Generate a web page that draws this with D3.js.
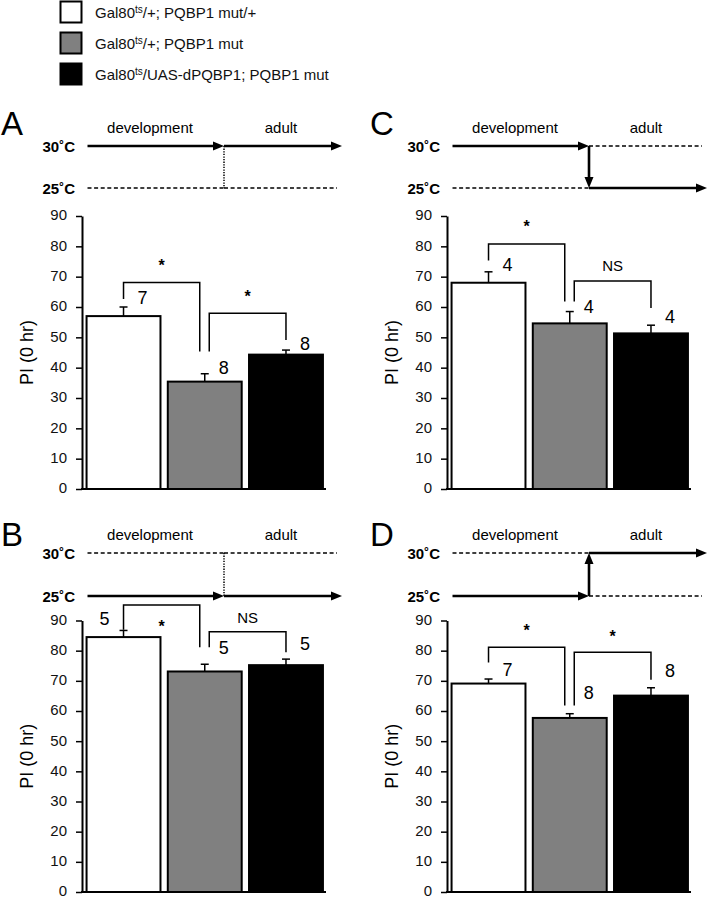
<!DOCTYPE html>
<html><head><meta charset="utf-8">
<script src="https://cdn.jsdelivr.net/npm/d3@7"></script>
<style>body{margin:0;background:#fff} svg text{font-family:"Liberation Sans",Arial,Helvetica,sans-serif}</style>
</head><body><svg id="c" width="708" height="899"></svg>
<script>
// ---------- data ----------
const legendPrefix = "Gal80";
const legendSup = "ts";
const legendRest = ["/+; PQBP1 mut/+", "/+; PQBP1 mut", "/UAS-dPQBP1; PQBP1 mut"];
const groups = [0, 1, 2];
const panels = ["A", "B", "C", "D"];
const yTicks = [0, 10, 20, 30, 40, 50, 60, 70, 80, 90];
const phaseLabels = ["development", "adult"];
const devTemp = [30, 25, 30, 25];
const adultTemp = [30, 25, 25, 30];
const temps = [30, 25];

const meanA = [57.0, 35.4, 44.3], semA = [3.0, 2.6, 1.5], nA = [7, 8, 8], nAtA = [63.0, 39.9, 48.1], nSideA = [1, 1, 1];
const meanB = [84.5, 73.1, 75.2], semB = [2.2, 2.4, 2.0], nB = [5, 5, 5], nAtB = [90.5, 81.1, 82.3], nSideB = [-1, 1, 1];
const meanC = [68.0, 54.6, 51.3], semC = [3.6, 3.9, 2.7], nC = [4, 4, 4], nAtC = [73.9, 60.3, 57.0], nSideC = [1, 1, 1];
const meanD = [69.1, 57.7, 65.1], semD = [1.5, 1.4, 2.6], nD = [7, 8, 8], nAtD = [73.7, 66.0, 73.5], nSideD = [1, 1, 1];

// brackets: from bar, to bar, top level, left leg end, right leg end, label, label level (PI units)
const bracketsA = [[0, 1, 68.1, 62.6, 45.3, "*", 74.9], [1, 2, 57.9, 45.3, 49.1, "*", 64.6]];
const bracketsB = [[0, 1, 95.1, 86.9, 81.1, "*", 89.3], [1, 2, 86.3, 81.1, 79.5, "NS", 90.8]];
const bracketsC = [[0, 1, 80.8, 75.3, 61.8, "*", 87.7], [1, 2, 68.6, 61.8, 59.7, "NS", 73.6]];
const bracketsD = [[0, 1, 81.1, 76.1, 61.8, "*", 88.0], [1, 2, 79.5, 61.8, 70.4, "*", 86.0]];

const panelData = {
  A: {mean: meanA, sem: semA, n: nA, nAt: nAtA, nSide: nSideA, br: bracketsA},
  B: {mean: meanB, sem: semB, n: nB, nAt: nAtB, nSide: nSideB, br: bracketsB},
  C: {mean: meanC, sem: semC, n: nC, nAt: nAtC, nSide: nSideC, br: bracketsC},
  D: {mean: meanD, sem: semD, n: nD, nAt: nAtD, nSide: nSideD, br: bracketsD}
};

// ---------- styles / layout ----------
const fills = ["#ffffff", "#808080", "#000000"];
const colAxisX = [82, 447];
const rows = [{y0: 489, y90: 216, t30: 146, t25: 188, letterY: 135},
              {y0: 892, y90: 620.5, t30: 553, t25: 596, letterY: 546}];
const panelPos = {A: [0, 0], B: [0, 1], C: [1, 0], D: [1, 1]};

const svg = d3.select("#c");

// legend
const lg = svg.append("g");
groups.forEach((g, i) => {
  const yTop = 1.5 + i * 31;
  lg.append("rect").attr("x", 60.5).attr("y", yTop).attr("width", 21).attr("height", 21)
    .attr("fill", fills[i]).attr("stroke", "#000").attr("stroke-width", 2);
  const t = lg.append("text").attr("x", 95).attr("y", yTop + 16).attr("font-size", 15).attr("fill", "#111");
  t.append("tspan").text(legendPrefix);
  t.append("tspan").attr("font-size", 10).attr("dy", -5).text(legendSup);
  t.append("tspan").attr("dy", 5).text(legendRest[i]);
});

function arrowHead(g, x, y, dir) {
  let pts;
  if (dir === "r") pts = [[x, y], [x - 11, y - 4.5], [x - 11, y + 4.5]];
  else if (dir === "d") pts = [[x, y], [x - 4.5, y - 11], [x + 4.5, y - 11]];
  else pts = [[x, y], [x - 4.5, y + 11], [x + 4.5, y + 11]];
  g.append("path").attr("d", d3.line()(pts) + "Z").attr("fill", "#000");
}

panels.forEach((p, pi) => {
  const [col, row] = panelPos[p];
  const ax = colAxisX[col];
  const R = rows[row];
  const d = panelData[p];
  const g = svg.append("g");

  // panel letter
  g.append("text").attr("x", col === 0 ? 1 : 370).attr("y", R.letterY).attr("font-size", 33).text(p);

  // ---- schematic ----
  const tY = d3.scaleLinear().domain([25, 30]).range([R.t25, R.t30]);
  const sx0 = ax + 5.5, sSwitch = ax + 142, sx1 = ax + 260;
  g.append("text").attr("x", ax + 68).attr("y", R.t30 - 13).attr("text-anchor", "middle")
    .attr("font-size", 15).text(phaseLabels[0]);
  g.append("text").attr("x", ax + 199).attr("y", R.t30 - 13).attr("text-anchor", "middle")
    .attr("font-size", 15).text(phaseLabels[1]);
  temps.forEach(t => {
    g.append("text").attr("x", ax - 7).attr("y", tY(t) + 5.5).attr("text-anchor", "end")
      .attr("font-size", 15).attr("font-weight", "bold").text(t + "˚C");
    const segs = [[sx0, sSwitch, devTemp[pi] === t], [sSwitch, sx1, adultTemp[pi] === t]];
    segs.forEach(([a, b, solid]) => {
      if (solid) {
        g.append("line").attr("x1", a).attr("x2", b - 8).attr("y1", tY(t)).attr("y2", tY(t))
          .attr("stroke", "#000").attr("stroke-width", 2.6);
        arrowHead(g, b, tY(t), "r");
      } else {
        g.append("line").attr("x1", a).attr("x2", b === sx1 ? b - 5 : b).attr("y1", tY(t)).attr("y2", tY(t))
          .attr("stroke", "#000").attr("stroke-width", 1.3).attr("stroke-dasharray", "4,2.6");
      }
    });
  });
  if (devTemp[pi] === adultTemp[pi]) {
    g.append("line").attr("x1", sSwitch).attr("x2", sSwitch).attr("y1", R.t30).attr("y2", R.t25)
      .attr("stroke", "#000").attr("stroke-width", 1.5).attr("stroke-dasharray", "1.3,1.3");
  } else {
    const ya = tY(devTemp[pi]), yb = tY(adultTemp[pi]);
    const dir = yb > ya ? 1 : -1;
    g.append("line").attr("x1", sSwitch).attr("x2", sSwitch).attr("y1", ya).attr("y2", yb - dir * 8)
      .attr("stroke", "#000").attr("stroke-width", 2.6);
    arrowHead(g, sSwitch, yb, dir > 0 ? "d" : "u");
  }

  // ---- bar chart ----
  const y = d3.scaleLinear().domain([0, 90]).range([R.y0, R.y90]);
  const x = d3.scaleBand().domain(groups).range([ax + 0.5, ax + 245]).paddingInner(0.09).paddingOuter(0.05);

  g.selectAll(".bar").data(groups).enter().append("rect")
    .attr("x", i => x(i)).attr("width", x.bandwidth())
    .attr("y", i => y(d.mean[i])).attr("height", i => y(0) - y(d.mean[i]))
    .attr("fill", i => fills[i]).attr("stroke", "#000").attr("stroke-width", 2);

  groups.forEach(i => {
    const cx = x(i) + x.bandwidth() / 2;
    g.append("line").attr("x1", cx).attr("x2", cx).attr("y1", y(d.mean[i])).attr("y2", y(d.mean[i] + d.sem[i]))
      .attr("stroke", "#000").attr("stroke-width", 1.5);
    g.append("line").attr("x1", cx - 4).attr("x2", cx + 4).attr("y1", y(d.mean[i] + d.sem[i])).attr("y2", y(d.mean[i] + d.sem[i]))
      .attr("stroke", "#000").attr("stroke-width", 1.5);
    g.append("text").attr("x", cx + 19 * d.nSide[i]).attr("y", y(d.nAt[i]) + 6.5)
      .attr("text-anchor", "middle").attr("font-size", 18).text(d.n[i]);
  });

  const yAxis = d3.axisLeft(y).tickValues(yTicks).tickSize(6).tickSizeOuter(0).tickPadding(9);
  const ag = g.append("g").attr("transform", `translate(${ax},0)`).call(yAxis);
  ag.select(".domain").attr("stroke-width", 2);
  ag.selectAll(".tick line").attr("stroke-width", 1.5);
  ag.selectAll(".tick text").attr("font-size", 15).attr("fill", "#111").attr("dy", "0.26em")
    .style("font-family", '"Liberation Sans",Arial,sans-serif');
  g.append("line").attr("x1", ax - 1).attr("x2", ax + 244).attr("y1", y(0)).attr("y2", y(0))
    .attr("stroke", "#000").attr("stroke-width", 2);

  g.append("text").attr("transform", `translate(${ax - 49},${(R.y0 + R.y90) / 2}) rotate(-90)`)
    .attr("text-anchor", "middle").attr("font-size", 18).text("PI (0 hr)");

  d.br.forEach(([a, b, top, le, re, lab, labAt]) => {
    const xa = x(a) + x.bandwidth() / 2 + (a === 1 ? 4.5 : 0);
    const xb = x(b) + x.bandwidth() / 2 + (b === 1 ? -5 : 0);
    g.append("path").attr("d", d3.line()([[xa, y(le)], [xa, y(top)], [xb, y(top)], [xb, y(re)]]))
      .attr("fill", "none").attr("stroke", "#000").attr("stroke-width", 1.5);
    const isStar = lab === "*";
    g.append("text").attr("x", (xa + xb) / 2).attr("y", y(labAt) + (isStar ? 9 : 5.4))
      .attr("text-anchor", "middle").attr("font-size", isStar ? 16 : 15)
      .attr("font-weight", isStar ? "bold" : "normal").text(lab);
  });
});
</script></body></html>
